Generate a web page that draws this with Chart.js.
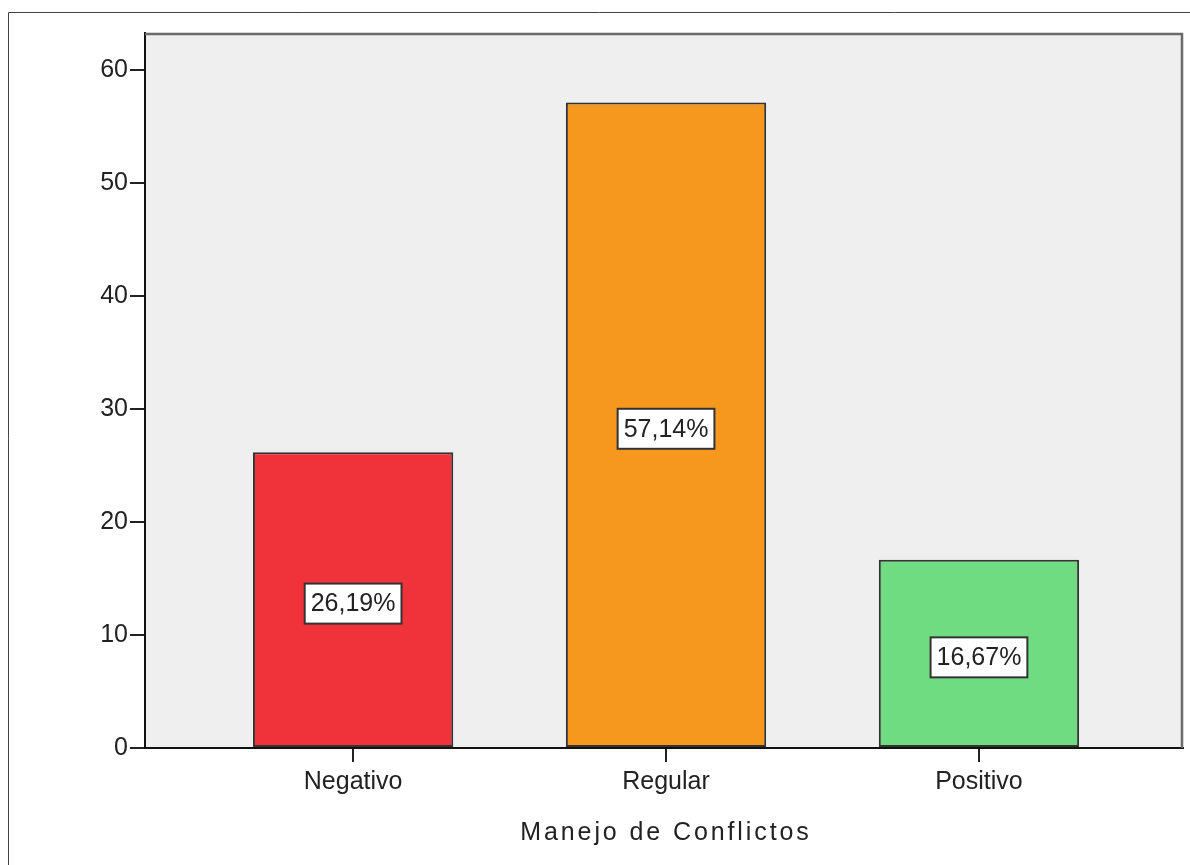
<!DOCTYPE html>
<html>
<head>
<meta charset="utf-8">
<script src="https://cdn.jsdelivr.net/npm/chart.js@4/dist/chart.umd.min.js"></script>
<style>
  html, body { margin: 0; padding: 0; background: #fff; }
  #wrap { position: relative; width: 1190px; height: 865px; }
</style>
</head>
<body>
<div id="wrap"><canvas id="grafico"></canvas></div>
<script>
// datos del grafico
const categorias = ["Negativo", "Regular", "Positivo"];
const porcentajes = [26.19, 57.14, 16.67];
const coloresBarra = ["#f0323a", "#f7981e", "#70dc82"];
const ticksY = [0, 10, 20, 30, 40, 50, 60];
const tituloX = "Manejo de Conflictos";

const fuente = "'Liberation Sans', Arial, sans-serif";

// fondo gris del area y marco exterior
const fondoPlugin = {
    id: "fondo",
    beforeDraw(chart) {
        const { ctx, chartArea: a } = chart;
        ctx.save();
        ctx.fillStyle = "#efefef";
        ctx.fillRect(a.left, a.top, a.right - a.left, a.bottom - a.top);
        // marco exterior
        ctx.strokeStyle = "#444";
        ctx.lineWidth = 1;
        ctx.beginPath();
        ctx.moveTo(8.5, chart.height);
        ctx.lineTo(8.5, 12.5);
        ctx.lineTo(chart.width, 12.5);
        ctx.stroke();
        ctx.restore();
    },
    afterDraw(chart) {
        const { ctx, chartArea: a } = chart;
        ctx.save();
        // borde superior y derecho
        ctx.strokeStyle = "#6a6a6a";
        ctx.lineWidth = 2.5;
        ctx.beginPath();
        ctx.moveTo(a.left, a.top + 1);
        ctx.lineTo(a.right - 1, a.top + 1);
        ctx.lineTo(a.right - 1, a.bottom);
        ctx.stroke();
        // titulo del eje x con espaciado
        ctx.fillStyle = "#222";
        ctx.font = "25px " + fuente;
        ctx.textAlign = "center";
        ctx.textBaseline = "alphabetic";
        ctx.letterSpacing = "2.9px";
        ctx.fillText(tituloX, (a.left + a.right) / 2 + 2, a.bottom + 92);
        ctx.restore();
    }
};

// etiquetas con recuadro blanco dentro de cada barra
const etiquetasPlugin = {
    id: "etiquetas",
    afterDatasetsDraw(chart) {
        const { ctx } = chart;
        const meta = chart.getDatasetMeta(0);
        ctx.save();
        ctx.font = "25px " + fuente;
        ctx.textAlign = "center";
        ctx.textBaseline = "middle";
        meta.data.forEach((bar, i) => {
            const texto = porcentajes[i].toFixed(2).replace(".", ",") + "%";
            const cx = bar.x;
            const cy = (bar.y + bar.base) / 2 + 4;
            const w = ctx.measureText(texto).width + 12;
            const h = 40;
            ctx.fillStyle = "#fff";
            ctx.fillRect(cx - w / 2, cy - h / 2, w, h);
            ctx.strokeStyle = "#333";
            ctx.lineWidth = 2;
            ctx.strokeRect(cx - w / 2, cy - h / 2, w, h);
            ctx.fillStyle = "#222";
            ctx.fillText(texto, cx, cy + 1);
        });
        ctx.restore();
    }
};

const ctx = document.getElementById("grafico").getContext("2d");

window.chart1 = new Chart(ctx, {
    type: "bar",
    data: {
        datasets: [{
            data: categorias.map((c, i) => ({ x: i + 1, y: porcentajes[i] })),
            backgroundColor: coloresBarra,
            borderColor: "#333",
            borderWidth: 2,
            borderSkipped: false,
            barPercentage: 0.64,
            categoryPercentage: 1
        }]
    },
    options: {
        responsive: true,
        maintainAspectRatio: false,
        animation: false,
        layout: { padding: { top: 33, right: 7, left: 0, bottom: 0 } },
        plugins: {
            legend: { display: false },
            tooltip: { enabled: false }
        },
        scales: {
            x: {
                type: "linear",
                offset: false,
                min: 0.335,
                max: 3.652,
                afterBuildTicks(scale) {
                    scale.ticks = categorias.map((c, i) => ({ value: i + 1 }));
                },
                afterFit(scale) { scale.height = 117; },
                ticks: {
                    autoSkip: false,
                    maxRotation: 0,
                    padding: 5,
                    color: "#222",
                    font: { family: fuente, size: 25 },
                    callback: (v) => categorias[v - 1] || ""
                },
                grid: {
                    offset: false,
                    drawOnChartArea: false,
                    drawTicks: true,
                    tickLength: 14,
                    color: "#222",
                    lineWidth: 2
                },
                border: { display: true, color: "#111", width: 2 }
            },
            y: {
                min: 0,
                max: 63.3,
                afterBuildTicks(scale) {
                    scale.ticks = ticksY.map(v => ({ value: v }));
                },
                afterFit(scale) { scale.width = 145; },
                ticks: {
                    padding: 2,
                    color: "#222",
                    font: { family: fuente, size: 25 }
                },
                grid: {
                    drawOnChartArea: false,
                    drawTicks: true,
                    tickLength: 15,
                    color: "#222",
                    lineWidth: 2
                },
                border: { display: true, color: "#111", width: 2 }
            }
        }
    },
    plugins: [fondoPlugin, etiquetasPlugin]
});
</script>
</body>
</html>
